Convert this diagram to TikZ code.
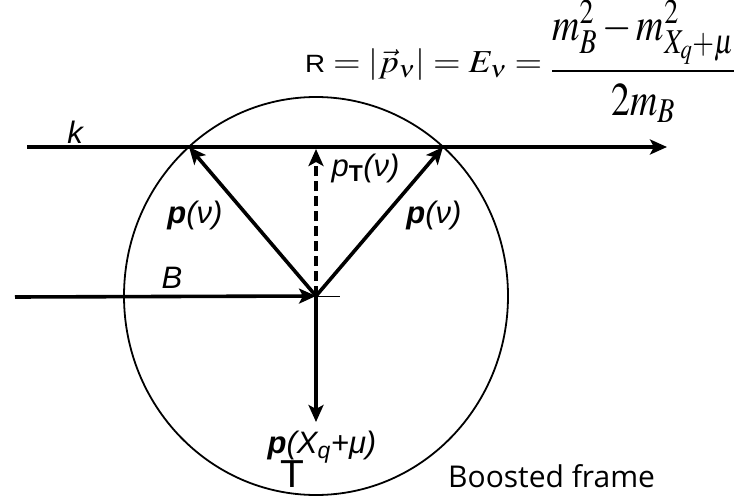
\documentclass[tikz,border=0pt]{standalone}
\usepackage{amsmath}
\usepackage{mathptmx}
\usepackage{fontspec}
\setsansfont{Liberation Sans}
\newfontfamily\boostfont{Open Sans}
\newfontfamily\cursorfont{Liberation Sans}
\usetikzlibrary{arrows.meta}
\begin{document}
\begin{tikzpicture}[x=1pt,y=-1pt,
  vec/.style={line width=3.6pt,-{Stealth[length=17pt,width=15pt,inset=4pt]}},
  lbl/.style={font=\sffamily\itshape\fontsize{31}{36}\selectfont},
  eqn/.style={anchor=base west,inner sep=0pt}]
\useasboundingbox (0,0) rectangle (735,497);
% boosted frame circle
\draw[line width=1.8pt] (316,296) ellipse [x radius=192, y radius=199];
\coordinate (O) at (316,296);
\coordinate (kS) at (27,147);
\coordinate (kE) at (667,147);
\coordinate (kL) at (189,147);
\coordinate (kR) at (443,147);
\coordinate (kT) at (316,149);
\coordinate (BS) at (15,297);
\coordinate (Xq) at (316,422);
\coordinate (tick) at (340,296);
% momenta
\draw[vec] (kS) -- (kE);
\draw[vec] (BS) -- (O);
\draw[vec] (O) -- (kL);
\draw[vec] (O) -- (kR);
\draw[vec] (O) -- (Xq);
\draw[vec,line width=4.4pt,dash pattern=on 10pt off 5pt] (O) -- (kT);
\draw[line width=1pt] (O) -- (tick);
% labels
\node[lbl] (klab) at (75,132) {k};
\node[lbl] (Blab) at (172,278) {B};
\node[lbl] (pL) at (195,215) {{\bfseries p}(ν)};
\node[lbl] (pR) at (434,215) {{\bfseries p}(ν)};
\node[lbl,anchor=west] (pT) at (328,168) {p\textsubscript{\upshape\bfseries T}(ν)};
\node[lbl] (pX) at (322,447) {{\bfseries p}(X\textsubscript{q}+μ)};
\node[font=\cursorfont\fontsize{39}{39}\selectfont] (cur) at (292,474) {T};
\node[font=\boostfont\fontsize{30}{36}\selectfont,anchor=base west,inner sep=0pt] (frame) at (448,487) {Boosted frame};
% radius formula
\node[eqn,font=\fontsize{32}{38}\selectfont] (eqL) at (305,73)
  {\scalebox{1.11}[1]{$\textsf{\fontsize{25}{30}\selectfont R} = \left|\vec{p}_\nu\right| = E_\nu =$}};
\node[eqn,font=\fontsize{42}{50}\selectfont] (eqR) at (551,83)
  {\scalebox{0.9}[1.12]{$\dfrac{m_B^2 - m_{X_q+\mu}^2}{2m_B}$}};
\end{tikzpicture}
\end{document}
